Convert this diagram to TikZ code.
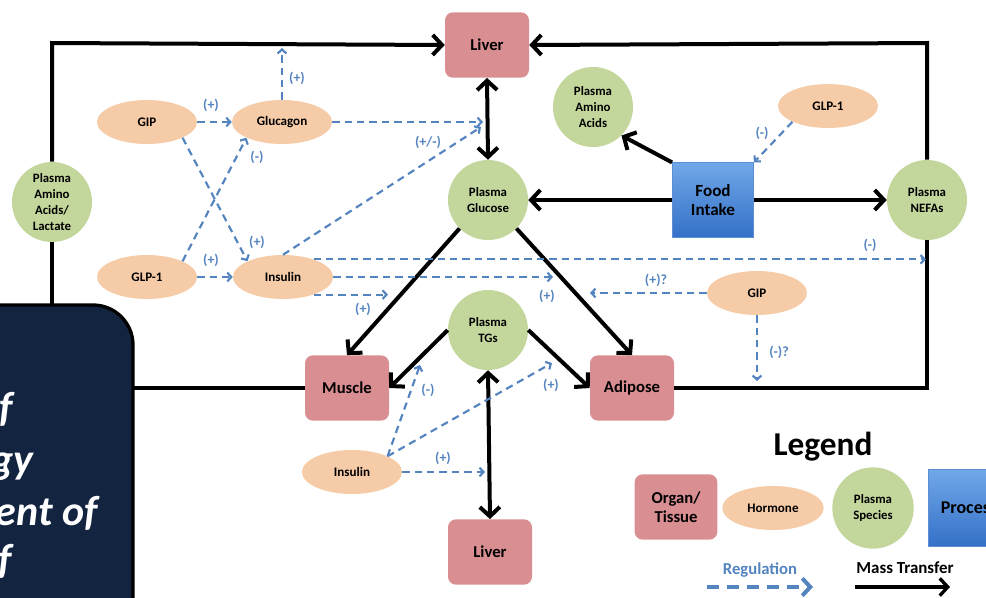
\documentclass[tikz,border=0pt]{standalone}
\usepackage{fontspec}
\setmainfont{Carlito}
\usetikzlibrary{arrows.meta,shapes.geometric}
\definecolor{organc}{RGB}{217,143,146}
\definecolor{hormc}{RGB}{246,204,168}
\definecolor{plasc}{RGB}{195,214,155}
\definecolor{regc}{RGB}{84,132,192}
\definecolor{navyc}{RGB}{18,36,64}
\definecolor{proctop}{RGB}{112,168,232}
\definecolor{procbot}{RGB}{52,112,200}
\tikzset{
 BT/.tip={Straight Barb[length=7pt,width=15pt]},
 ST/.tip={Straight Barb[length=3pt,width=6.5pt]},
 LT/.tip={Straight Barb[length=6pt,width=13pt]},
 organ/.style={rectangle, rounded corners=6pt, fill=organc, minimum width=63pt, minimum height=49pt, inner sep=0pt, align=center, font=\bfseries\fontsize{12.5}{14.5}\selectfont},
 hormone/.style={ellipse, fill=hormc, minimum width=75pt, minimum height=33pt, inner sep=0pt, font=\bfseries\fontsize{9.8}{11}\selectfont},
 plasma/.style={circle, fill=plasc, minimum size=60pt, inner sep=0pt, align=center, font=\bfseries\fontsize{9.6}{12}\selectfont},
 procbox/.style={rectangle, top color=proctop, bottom color=procbot, draw=procbot!80!white, minimum width=61pt, minimum height=56pt, inner sep=0pt, align=center, font=\bfseries\fontsize{12.8}{14.5}\selectfont},
 mass/.style={draw=black, line width=3pt, -BT},
 massb/.style={draw=black, line width=3pt, BT-BT},
 massl/.style={draw=black, line width=3pt},
 reg/.style={draw=regc, line width=1.6pt, dash pattern=on 5.5pt off 3.8pt, -ST},
 lab/.style={text=regc, inner sep=0pt, font=\bfseries\fontsize{10.5}{12}\selectfont},
 darktext/.style={text=white, inner sep=0pt, anchor=base east, font=\bfseries\itshape\fontsize{31.5}{31.5}\selectfont},
}
\begin{document}
\begin{tikzpicture}[x=0.75pt,y=-0.75pt]
\useasboundingbox (0,0) rectangle (986,597);
\clip (0,0) rectangle (986,597);
\fill[white] (0,0) rectangle (986,597);

% ---- nodes ----
\node[organ] (liver1) at (487,45) {Liver};
\node[plasma] (glucose) at (488,200) {Plasma\\Glucose};
\node[plasma] (aa) at (593,107) {Plasma\\Amino\\Acids};
\node[hormone] (glp1b) at (828,106) {GLP-1};
\node[procbox] (food) at (713,200) {Food\\Intake};
\node[plasma] (nefas) at (927,200) {Plasma\\NEFAs};
\node[plasma] (paal) at (52,202) {Plasma\\Amino\\Acids/\\Lactate};
\node[hormone] (gip1) at (147,122) {GIP};
\node[hormone] (glucagon) at (282,122) {Glucagon};
\node[hormone] (glp1a) at (147,277) {GLP-1};
\node[hormone] (insulin1) at (283,277) {Insulin};
\node[hormone] (gip2) at (757,293) {GIP};
\node[organ] (muscle) at (347,388) {Muscle};
\node[organ] (adipose) at (632,388) {Adipose};
\node[plasma] (tgs) at (488,330) {Plasma\\TGs};
\node[hormone] (insulin2) at (352,472) {Insulin};
\node[organ] (liver2) at (490,552) {Liver};

% ---- outer mass transfer loop ----
\coordinate (TL) at (52,43);
\coordinate (TR) at (927,43);
\coordinate (BL) at (52,388);
\coordinate (BR) at (927,388);
\draw[massl] (muscle.west) -- (BL) -- (paal.south);
\draw[mass] (paal.north) -- (TL) -- (liver1.west);
\draw[massl] (adipose.east) -- (BR) -- (nefas.south);
\draw[mass] (nefas.north) -- (TR) -- (liver1.east);

% ---- mass transfer arrows ----
\draw[massb] (liver1.south) -- (glucose.north);
\draw[mass] (food.north west) -- (aa.south east);
\draw[mass] (food.west) -- (glucose.east);
\draw[mass] (food.east) -- (nefas.west);
\draw[mass] (glucose.south west) -- (muscle.north);
\draw[mass] (glucose.south east) -- (adipose.north);
\draw[mass] (tgs.west) -- (muscle.east);
\draw[mass] (tgs.east) -- (adipose.west);
\draw[massb] (tgs.south) -- (liver2.north);

% ---- regulation ----
\coordinate (gluUp) at (282,48);
\draw[reg] (glucagon.north) -- (gluUp);
\node[lab] (l1) at (297,78) {(+)};
\draw[reg] (gip1.east) -- (glucagon.west);
\node[lab] (l2) at (211,105) {(+)};
\draw[reg] (gip1.south east) -- (insulin1.north west);
\node[lab] (l3) at (257,242) {(+)};
\draw[reg] (glp1a.north east) -- (glucagon.south west);
\node[lab] (l4) at (257,157) {(-)};
\draw[reg] (glp1a.east) -- (insulin1.west);
\node[lab] (l5) at (211,260) {(+)};
\coordinate (gluT) at (483,122);
\draw[reg] (glucagon.east) -- (gluT);
\coordinate (insT) at (481,127);
\draw[reg] (insulin1.north) -- (insT);
\node[lab] (l6) at (428,142) {(+/-)};
\coordinate (nefL) at (926,260);
\draw[reg] (insulin1.30) -- (insulin1.30 -| nefL);
\node[lab] (l7) at (870,245) {(-)};
\coordinate (insM) at (553,277);
\draw[reg] (insulin1.east) -- (insM);
\node[lab] (l8) at (547,296) {(+)};
\coordinate (insB) at (388,294);
\draw[reg] (insulin1.-30) -- (insulin1.-30 -| insB);
\node[lab] (l9) at (363,309) {(+)};
\coordinate (gipL) at (590,293);
\draw[reg] (gip2.west) -- (gipL);
\node[lab] (l10) at (656,280) {(+)?};
\coordinate (gipD) at (757,381);
\draw[reg] (gip2.south) -- (gipD);
\node[lab] (l11) at (779,352) {(-)?};
\draw[reg] (glp1b.south west) -- (food.north east);
\node[lab] (l12) at (762,133) {(-)};
\coordinate (i2a) at (420,365);
\draw[reg] (insulin2.north east) -- (i2a);
\node[lab] (l13) at (428,390) {(-)};
\coordinate (i2b) at (552,363);
\draw[reg] (insulin2.north east) -- (i2b);
\node[lab] (l14) at (551,385) {(+)};
\coordinate (i2c) at (485,472);
\draw[reg] (insulin2.east) -- (i2c);
\node[lab] (l15) at (443,458) {(+)};

% ---- dark overlay box ----
\draw[line width=2.5pt, fill=navyc, rounded corners=30pt] (-40,305) rectangle (133,650);
\node[darktext] (d1) at (13,421) {f};
\node[darktext] (d2) at (34,473) {gy};
\node[darktext] (d3) at (98,525) {ent of};
\node[darktext] (d4) at (12,573) {f};

% ---- legend ----
\node[font=\bfseries\fontsize{25}{27}\selectfont] (legend) at (823,447) {Legend};
\node[organ, minimum width=62pt] (lorgan) at (676,507) {Organ/\\Tissue};
\node[hormone, minimum width=76pt] (lhorm) at (773,508) {Hormone};
\node[plasma, minimum size=61pt] (lspec) at (873,508) {Plasma\\Species};
\node[procbox, minimum height=58pt, font=\bfseries\fontsize{13.5}{14.5}\selectfont] (lproc) at (969,508) {Process};
\node[text=regc, font=\bfseries\fontsize{12.5}{14}\selectfont] (lregt) at (760,570) {Regulation};
\coordinate (rg1) at (707,587);
\coordinate (rg2) at (813,587);
\draw[draw=regc, line width=3pt, dash pattern=on 9pt off 6pt, -LT] (rg1) -- (rg2);
\node[font=\bfseries\fontsize{12.7}{14}\selectfont] (lmt) at (905,568) {Mass Transfer};
\coordinate (mt1) at (855,587);
\coordinate (mt2) at (950,587);
\draw[line width=2.5pt, -LT] (mt1) -- (mt2);
\end{tikzpicture}
\end{document}
